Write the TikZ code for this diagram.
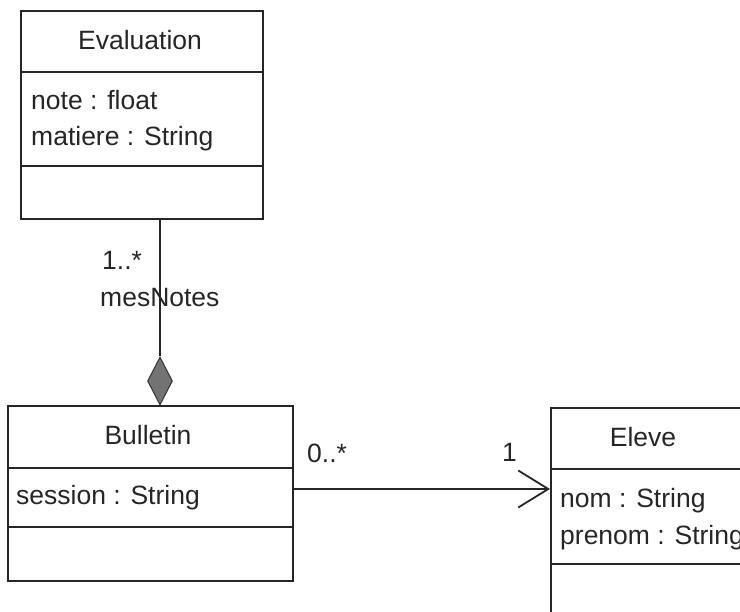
\documentclass[tikz,border=0pt]{standalone}
\usepackage{fontspec}
\setmainfont{Liberation Sans}
\usetikzlibrary{shapes.geometric,arrows.meta}
\begin{document}
\begin{tikzpicture}[x=1pt,y=-1pt,
  cls/.style={draw=black!85, line width=1.8pt, inner sep=0pt, anchor=north west},
  sep/.style={draw=black!85, line width=1.8pt},
  lbl/.style={font=\fontsize{26.5}{31}\selectfont, inner sep=0pt, text=black!85},
  conn/.style={draw=black!85, line width=1.8pt},
  comp/.style={diamond, draw=black!80, fill=black!55, line width=1pt, minimum width=25pt, minimum height=48pt, inner sep=0pt}]
\useasboundingbox (0,0) rectangle (740,612);
\clip (0,0) rectangle (740,612);
% Evaluation
\node[cls, minimum width=242pt, minimum height=208pt] (eval) at (20,10) {};
\draw[sep] (20,72) -- (262,72);
\draw[sep] (20,166) -- (262,166);
\node[lbl, anchor=base] (evalname) at (140,50) {Evaluation};
\node[lbl, anchor=base west] (evalnote) at (31,110) {note : float};
\node[lbl, anchor=base west] (evalmat) at (31,146) {matiere : String};
% Bulletin
\node[cls, minimum width=285pt, minimum height=175pt] (bull) at (7,405) {};
\draw[sep] (7,468) -- (292,468);
\draw[sep] (7,527) -- (292,527);
\node[lbl, anchor=base] (bullname) at (148,445) {Bulletin};
\node[lbl, anchor=base west] (bullsess) at (16,505) {session : String};
% Eleve
\node[cls, minimum width=220pt, minimum height=240pt] (elev) at (550,407) {};
\draw[sep] (550,469) -- (770,469);
\draw[sep] (550,564) -- (770,564);
\node[lbl, anchor=base] (elevname) at (643,447) {Eleve};
\node[lbl, anchor=base west] (elevnom) at (560,508) {nom : String};
\node[lbl, anchor=base west] (elevpre) at (560,545) {prenom : String};
% composition
\node[comp] (dia) at (160,381) {};
\draw[conn] (eval.south -| dia.north) -- (dia.north);
\node[lbl, anchor=base west] (mult1) at (102,270) {1..*};
\node[lbl, anchor=base west] (role) at (100,307) {mesNotes};
% association
\coordinate (ay) at (0,489);
\draw[conn, -{Straight Barb[length=30pt,width=37pt]}] (bull.east |- ay) -- (elev.west |- ay);
\node[lbl, anchor=base west] (mult2) at (307,463) {0..*};
\node[lbl, anchor=base west] (mult3) at (502,462) {1};
\end{tikzpicture}
\end{document}
